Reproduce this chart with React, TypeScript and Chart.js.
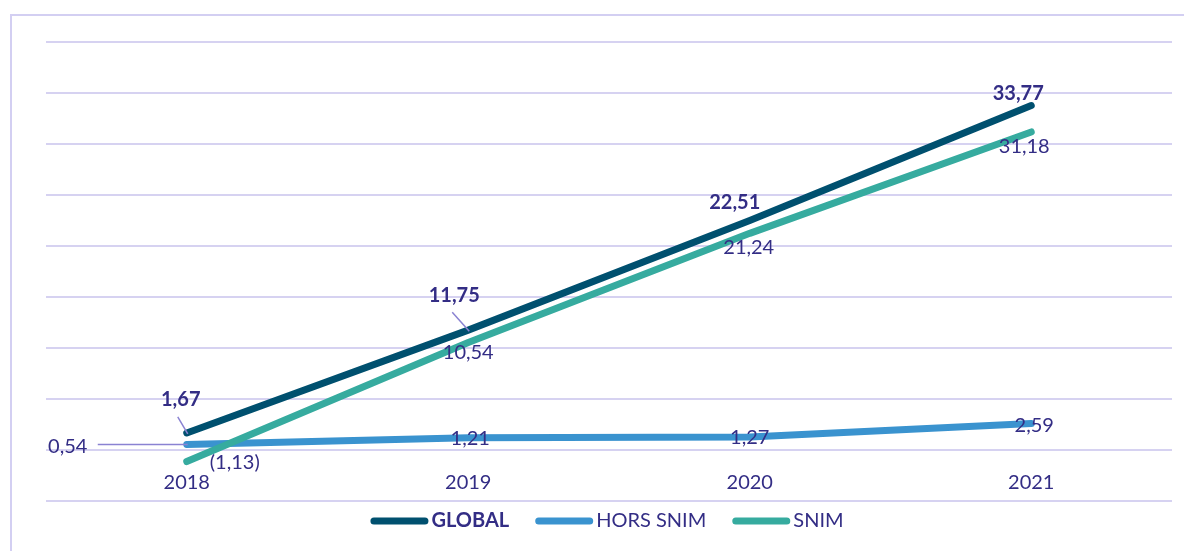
import React, { useEffect, useRef } from "react";
import { Chart, registerables } from "chart.js";

Chart.register(...registerables);

// ---- Data ----
const categories = ["2018", "2019", "2020", "2021"];
const seriesNames = ["GLOBAL", "HORS SNIM", "SNIM"];
const globalValues = [1.67, 11.75, 22.51, 33.77];
const horsSnimValues = [0.54, 1.21, 1.27, 2.59];
const snimValues = [-1.13, 10.54, 21.24, 31.18];
const yTicks = { min: -5, max: 40, step: 5 };

// ---- Style ----
const TEXT = "#332D85";
const FONT = "Lato, 'Open Sans', sans-serif";
const FS = 20;
const GRID = "#D6D2F1";
const LEADER = "#8A82D2";
const COLORS = ["#00506F", "#3A93CF", "#36AB9F"];

// per-series label placement (offset of label centre from point), leader start offsets
const labelLayout = [
  {
    bold: true,
    offsets: [[-6, -34], [-14, -35], [-15, -19], [-13, -13]],
    leaders: [[-9, -16], [-16, -18], null, null],
  },
  {
    bold: false,
    offsets: [[-119, 1], [2, 0], [0, 0], [3, 1]],
    leaders: [[-89, 0], null, null, null],
  },
  {
    bold: false,
    offsets: [[48, 0], [0, 9], [-1, 13], [-7, 14]],
    leaders: [null, null, null, null],
  },
];

const fmt = (v: number) => {
  const s = Math.abs(v).toFixed(2).replace(".", ",");
  return v < 0 ? `(${s})` : s;
};

const framePlugin = {
  id: "frame",
  beforeDraw(chart: any) {
    const ctx = chart.ctx;
    ctx.save();
    ctx.strokeStyle = "#D3CFF2";
    ctx.lineWidth = 2;
    ctx.beginPath();
    ctx.moveTo(11, chart.height + 5);
    ctx.lineTo(11, 15);
    ctx.lineTo(chart.width + 5, 15);
    ctx.stroke();
    ctx.restore();
  },
};

const labelsPlugin = {
  id: "valueLabels",
  afterDatasetsDraw(chart: any) {
    const ctx = chart.ctx;
    ctx.save();
    chart.data.datasets.forEach((ds: any, di: number) => {
      const meta = chart.getDatasetMeta(di);
      const lay = labelLayout[di];
      meta.data.forEach((pt: any, i: number) => {
        const x = pt.x;
        const y = pt.y;
        const lead = lay.leaders[i];
        if (lead) {
          ctx.strokeStyle = LEADER;
          ctx.lineWidth = 1.5;
          ctx.beginPath();
          ctx.moveTo(x + lead[0], y + lead[1]);
          ctx.lineTo(x - (lead[0] ? Math.sign(lead[0]) : 0), y - (lead[1] ? Math.sign(lead[1]) : 0));
          ctx.stroke();
        }
        const [dx, dy] = lay.offsets[i];
        ctx.fillStyle = TEXT;
        ctx.font = `${lay.bold ? "bold " : ""}${FS}px ${FONT}`;
        ctx.textAlign = "center";
        ctx.textBaseline = "alphabetic";
        ctx.fillText(fmt(ds.data[i]), x + dx, y + dy + FS * 0.36);
      });
    });

    // category labels next to the zero line
    const xs = chart.scales.x;
    const ys = chart.scales.y;
    const y0 = ys.getPixelForValue(0);
    ctx.fillStyle = TEXT;
    ctx.font = `${FS}px ${FONT}`;
    ctx.textAlign = "center";
    ctx.textBaseline = "alphabetic";
    chart.data.labels.forEach((lab: string, i: number) => {
      ctx.fillText(lab, xs.getPixelForValue(i), y0 + 31.5 + FS * 0.36);
    });
    ctx.restore();
  },
};

const legendPlugin = {
  id: "customLegend",
  afterDraw(chart: any) {
    const ctx = chart.ctx;
    const ca = chart.chartArea;
    const lineLen = 58;
    const gapText = 3;
    const gapItem = 26;
    const lineY = 521;
    const textY = 527;
    ctx.save();
    const items = chart.data.datasets.map((ds: any, di: number) => {
      const font = `${di === 0 ? "bold " : ""}${FS}px ${FONT}`;
      ctx.font = font;
      const w = ctx.measureText(ds.label).width;
      return { label: ds.label, color: ds.borderColor, font, w };
    });
    const total =
      items.reduce((s: number, it: any) => s + lineLen + gapText + it.w, 0) +
      gapItem * (items.length - 1);
    let x = (ca.left + ca.right) / 2 - 2 - total / 2;
    items.forEach((it: any) => {
      ctx.strokeStyle = it.color;
      ctx.lineWidth = 7;
      ctx.lineCap = "round";
      ctx.beginPath();
      ctx.moveTo(x + 3.5, lineY);
      ctx.lineTo(x + lineLen - 3.5, lineY);
      ctx.stroke();
      ctx.fillStyle = TEXT;
      ctx.font = it.font;
      ctx.textAlign = "left";
      ctx.textBaseline = "alphabetic";
      ctx.fillText(it.label, x + lineLen + gapText, textY);
      x += lineLen + gapText + it.w + gapItem;
    });
    ctx.restore();
  },
};

export default function App() {
  const ref = useRef<HTMLCanvasElement | null>(null);

  useEffect(() => {
    if (!ref.current) return;
    const values = [globalValues, horsSnimValues, snimValues];
    const order = [1, 2, 0];
    const chart = new Chart(ref.current, {
      type: "line",
      data: {
        labels: categories,
        datasets: seriesNames.map((name, i) => ({
          label: name,
          data: values[i],
          borderColor: COLORS[i],
          backgroundColor: COLORS[i],
          borderWidth: 7,
          borderCapStyle: "round",
          borderJoinStyle: "round",
          pointRadius: 0,
          pointHoverRadius: 0,
          tension: 0,
          fill: false,
          order: order[i],
        })),
      },
      options: {
        responsive: false,
        animation: false,
        layout: { padding: { left: 46, right: 12, top: 42, bottom: 50 } },
        plugins: {
          legend: { display: false },
          tooltip: { enabled: false },
        },
        scales: {
          x: {
            type: "category",
            display: false,
            offset: true,
          },
          y: {
            min: yTicks.min,
            max: yTicks.max,
            ticks: { display: false, stepSize: yTicks.step },
            border: { display: false },
            grid: { color: GRID, lineWidth: 2, drawTicks: false },
          },
        },
      },
      plugins: [framePlugin, labelsPlugin, legendPlugin],
    });
    return () => chart.destroy();
  }, []);

  return (
    <div style={{ position: "absolute", left: 0, top: 0, width: 1184, height: 551, background: "#fff" }}>
      <canvas ref={ref} width={1184} height={551} style={{ display: "block" }} />
    </div>
  );
}
